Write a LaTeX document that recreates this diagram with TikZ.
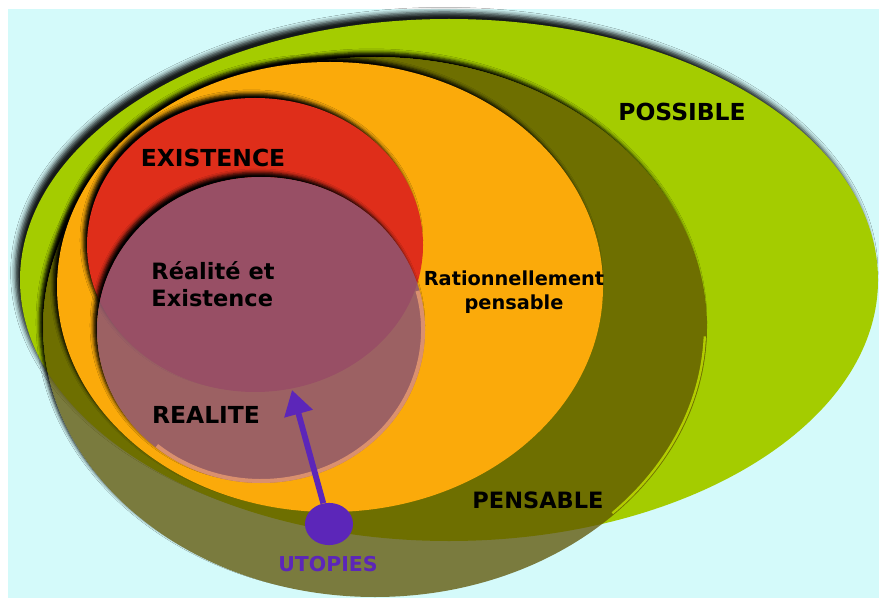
\documentclass[tikz,border=0pt]{standalone}
\usepackage{fontspec}
\setmainfont{DejaVu Sans}
\usepackage{tikz}
\usetikzlibrary{shapes,arrows.meta,shadows.blur,positioning}
\definecolor{bgcyan}{RGB}{212,250,250}
\definecolor{possgreen}{RGB}{164,204,0}
\definecolor{pensolive}{RGB}{92,81,0}
\definecolor{rimgreen}{RGB}{195,228,0}
\definecolor{ratorange}{RGB}{251,170,10}
\definecolor{exred}{RGB}{223,46,26}
\definecolor{realmauve}{RGB}{140,85,115}
\definecolor{rimsalmon}{RGB}{245,165,115}
\definecolor{utopurple}{RGB}{92,38,185}
\tikzstyle{dropsh}=[blur shadow={shadow xshift=-3pt,shadow yshift=4pt,shadow blur radius=3pt,shadow opacity=100}]
\tikzstyle{bigdropsh}=[blur shadow={shadow xshift=-4pt,shadow yshift=6pt,shadow blur radius=4pt,shadow opacity=90}]
\tikzstyle{lbl}=[font=\bfseries\fontsize{20}{24}\selectfont,text=black,inner sep=0pt]
\tikzstyle{midlbl}=[font=\bfseries\fontsize{19.2}{23.5}\selectfont,text=black,inner sep=0pt]
\tikzstyle{smalllbl}=[font=\bfseries\fontsize{16.5}{21}\selectfont,text=black,inner sep=0pt,align=center]
\tikzstyle{utoplbl}=[font=\bfseries\fontsize{17.5}{20}\selectfont,text=utopurple,inner sep=0pt]
\tikzstyle{utop}=[ellipse,fill=utopurple,minimum width=41pt,minimum height=36pt,inner sep=0pt]
\tikzstyle{utoparrow}=[draw=utopurple,line width=5pt,-{Triangle[width=24pt,length=21pt]}]

\begin{document}
\begin{tikzpicture}[x=0.03cm,y=-0.03cm]
\useasboundingbox (0,0) rectangle (879,598);
\fill[white] (0,0) rectangle (879,598);
\fill[bgcyan] (8,9) rectangle (879,598);

% possible
\fill[possgreen,bigdropsh] (449,280) ellipse [x radius=429,y radius=261];

% pensable: shadow kept outside the see-through fill
\begin{scope}[even odd rule]
\clip (8,9) rectangle (879,598) (375,327) ellipse [x radius=332,y radius=270];
\path[dropsh] (375,327) ellipse [x radius=332,y radius=270];
\end{scope}
\fill[pensolive,opacity=0.75] (375,327) ellipse [x radius=332,y radius=270];
\draw[rimgreen,line width=2pt,opacity=0.8] (375,327) ++(2:330 and 268) arc[start angle=2,end angle=44,x radius=330,y radius=268];

% rationnellement pensable, existence
\fill[ratorange,dropsh] (330,287) ellipse [x radius=273,y radius=225];
\fill[exred,dropsh] (255,245) ellipse [x radius=168,y radius=147];

% realite
\begin{scope}[even odd rule]
\clip (8,9) rectangle (879,598) (261,330) ellipse [x radius=164,y radius=153];
\path[dropsh] (261,330) ellipse [x radius=164,y radius=153];
\end{scope}
\fill[realmauve,opacity=0.85] (261,330) ellipse [x radius=164,y radius=153];
\draw[rimsalmon,line width=3.4pt,opacity=0.7] (261,330) ++(-15:162 and 151) arc[start angle=-15,end angle=130,x radius=162,y radius=151];

\node[lbl] (poss) at (682,112) {POSSIBLE};
\node[lbl] (exist) at (213,158) {EXISTENCE};
\node[midlbl,align=left] (realex) at (213,284) {Réalité et\\Existence};
\node[smalllbl] (ratio) at (514,292) {Rationnellement\\pensable};
\node[lbl] (real) at (206,415) {REALITE};
\node[midlbl] (pens) at (538,500) {PENSABLE};

\node[utop] (utop) at (329,524) {};
\node[utoplbl] (utopl) at (328,564) {UTOPIES};
\coordinate (tip) at (292,390);
\path (utop) edge[utoparrow] (tip);

\end{tikzpicture}
\end{document}
